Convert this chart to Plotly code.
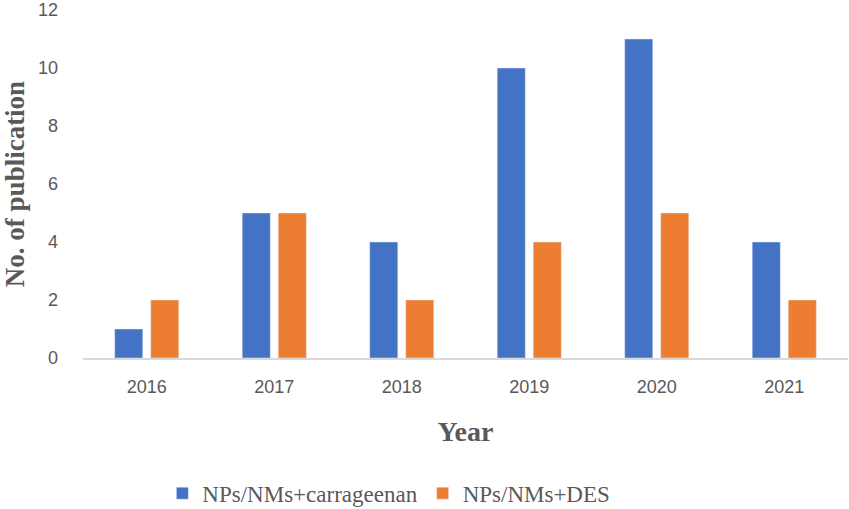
import plotly.graph_objects as go

years = ["2016", "2017", "2018", "2019", "2020", "2021"]
carrageenan = [1, 5, 4, 10, 11, 4]
des = [2, 5, 2, 4, 5, 2]

fig = go.Figure()
fig.add_trace(go.Bar(x=years, y=carrageenan, name="NPs/NMs+carrageenan", marker_color="#4472C4"))
fig.add_trace(go.Bar(x=years, y=des, name="NPs/NMs+DES", marker_color="#ED7D31"))

fig.update_layout(
    width=849, height=509,
    margin=dict(l=83, r=1, t=10, b=151),
    paper_bgcolor="white", plot_bgcolor="white",
    barmode="group", bargap=0.435, bargroupgap=0.22,
    showlegend=True,
    legend=dict(orientation="h", xref="container", yref="container",
                x=0.458, xanchor="center", y=0.031, yanchor="middle",
                font=dict(family="Liberation Serif", size=23, color="#595959"),
                itemwidth=30, traceorder="normal"),
    xaxis=dict(showgrid=False, showline=True, linecolor="#D9D9D9", linewidth=1.5,
               ticks="", automargin=False, ticklabelstandoff=12,
               tickfont=dict(family="Liberation Sans", size=18, color="#595959"),
               title=dict(text="<b>Year</b>", font=dict(family="Liberation Serif", size=28, color="#595959"), standoff=25)),
    yaxis=dict(range=[0, 12], dtick=2, showgrid=False, zeroline=False, showline=False,
               ticks="", automargin=False, ticklabelstandoff=24,
               tickfont=dict(family="Liberation Sans", size=18, color="#595959"),
               title=dict(text="<b>No. of publication</b>", font=dict(family="Liberation Serif", size=27, color="#595959"), standoff=20)),
)
fig.write_html("out.html", config={"displayModeBar": False},
               post_script="document.body.style.margin='0px';")
